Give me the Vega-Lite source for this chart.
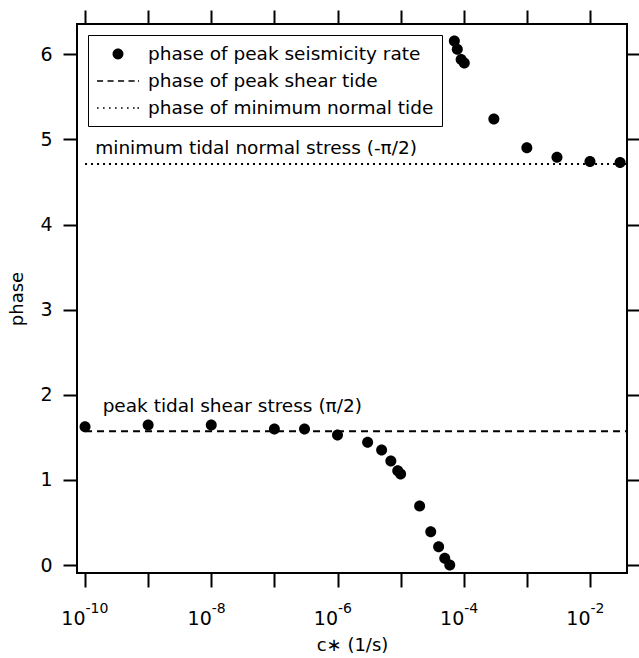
{
  "$schema": "https://vega.github.io/schema/vega-lite/v6.json",
  "width": 550,
  "height": 549,
  "autosize": {"type": "none"},
  "padding": {"left": 77, "top": 24, "right": 12, "bottom": 85},
  "background": "white",
  "config": {
    "font": "DejaVu Sans",
    "view": {"stroke": "black", "strokeWidth": 2},
    "axis": {
      "domain": false,
      "grid": false,
      "tickColor": "black",
      "tickWidth": 2,
      "tickSize": 14,
      "labelColor": "black",
      "titleColor": "black",
      "labelFont": "DejaVu Sans",
      "titleFont": "DejaVu Sans",
      "labelFontSize": 19,
      "titleFontSize": 18,
      "titleFontWeight": "normal"
    }
  },
  "datasets": {
    "points": [
      {"c": 1e-10, "phase": 1.625, "series": "phase of peak seismicity rate"},
      {"c": 1e-9, "phase": 1.645, "series": "phase of peak seismicity rate"},
      {"c": 1e-8, "phase": 1.645, "series": "phase of peak seismicity rate"},
      {"c": 1e-7, "phase": 1.598, "series": "phase of peak seismicity rate"},
      {"c": 3e-7, "phase": 1.598, "series": "phase of peak seismicity rate"},
      {"c": 1e-6, "phase": 1.528, "series": "phase of peak seismicity rate"},
      {"c": 3e-6, "phase": 1.442, "series": "phase of peak seismicity rate"},
      {"c": 5e-6, "phase": 1.351, "series": "phase of peak seismicity rate"},
      {"c": 7e-6, "phase": 1.222, "series": "phase of peak seismicity rate"},
      {"c": 9e-6, "phase": 1.108, "series": "phase of peak seismicity rate"},
      {"c": 1e-5, "phase": 1.069, "series": "phase of peak seismicity rate"},
      {"c": 2e-5, "phase": 0.693, "series": "phase of peak seismicity rate"},
      {"c": 3e-5, "phase": 0.392, "series": "phase of peak seismicity rate"},
      {"c": 4e-5, "phase": 0.215, "series": "phase of peak seismicity rate"},
      {"c": 5e-5, "phase": 0.078, "series": "phase of peak seismicity rate"},
      {"c": 6e-5, "phase": 0.0, "series": "phase of peak seismicity rate"},
      {"c": 7.1e-5, "phase": 6.157, "series": "phase of peak seismicity rate"},
      {"c": 7.9e-5, "phase": 6.06, "series": "phase of peak seismicity rate"},
      {"c": 9.1e-5, "phase": 5.94, "series": "phase of peak seismicity rate"},
      {"c": 1.02e-4, "phase": 5.9, "series": "phase of peak seismicity rate"},
      {"c": 3e-4, "phase": 5.24, "series": "phase of peak seismicity rate"},
      {"c": 1e-3, "phase": 4.904, "series": "phase of peak seismicity rate"},
      {"c": 3e-3, "phase": 4.79, "series": "phase of peak seismicity rate"},
      {"c": 1e-2, "phase": 4.74, "series": "phase of peak seismicity rate"},
      {"c": 3e-2, "phase": 4.73, "series": "phase of peak seismicity rate"}
    ],
    "refs": [
      {"kind": "shear", "phase": 1.5708, "c": 1e-10, "c2": 0.0386},
      {"kind": "normal", "phase": 4.7124, "c": 1e-10, "c2": 0.0386}
    ],
    "notes": [
      {"c": 1.45e-10, "phase": 4.9, "text": "minimum tidal normal stress (-π/2)"},
      {"c": 1.9e-10, "phase": 1.87, "text": "peak tidal shear stress (π/2)"}
    ]
  },
  "resolve": {"axis": {"x": "independent", "y": "independent"}},
  "layer": [
    {
      "data": {"name": "refs"},
      "transform": [{"filter": "datum.kind == 'shear'"}],
      "mark": {"type": "rule", "color": "black", "strokeWidth": 2, "strokeDash": [7, 5]},
      "encoding": {
        "x": {"field": "c", "type": "quantitative", "scale": {"type": "log", "domain": [7.46e-11, 0.0386], "nice": false}, "axis": null},
        "x2": {"field": "c2"},
        "y": {"field": "phase", "type": "quantitative", "scale": {"domain": [-0.094, 6.357], "nice": false, "zero": false}, "axis": null}
      }
    },
    {
      "data": {"name": "refs"},
      "transform": [{"filter": "datum.kind == 'normal'"}],
      "mark": {"type": "rule", "color": "black", "strokeWidth": 2, "strokeDash": [2, 4]},
      "encoding": {
        "x": {
          "field": "c", "type": "quantitative",
          "axis": {
            "orient": "bottom",
            "title": null,
            "ticks": false,
            "values": [1e-10, 1e-8, 1e-6, 1e-4, 1e-2],
            "labelFontSize": 14,
            "labelAlign": "left",
            "labelBaseline": "alphabetic",
            "labelDx": 6,
            "labelPadding": 39,
            "labelFlush": false,
            "labelOverlap": false,
            "labelExpr": "'-' + format(-round(log(datum.value)/LN10), 'd')"
          }
        },
        "x2": {"field": "c2"},
        "y": {"field": "phase", "type": "quantitative", "axis": null}
      }
    },
    {
      "data": {"name": "notes"},
      "mark": {"type": "text", "align": "left", "baseline": "middle", "fontSize": 18.5, "color": "black", "font": "DejaVu Sans"},
      "encoding": {
        "x": {
          "field": "c", "type": "quantitative",
          "axis": {"orient": "top", "labels": false, "title": null, "values": [1e-10, 1e-9, 1e-8, 1e-7, 1e-6, 1e-5, 1e-4, 1e-3, 1e-2]}
        },
        "y": {
          "field": "phase", "type": "quantitative",
          "axis": {"orient": "right", "labels": false, "title": null, "values": [0, 1, 2, 3, 4, 5, 6]}
        },
        "text": {"field": "text"}
      }
    },
    {
      "data": {"name": "points"},
      "mark": {"type": "point", "filled": true, "color": "black", "opacity": 1, "size": 406},
      "encoding": {
        "x": {
          "field": "c", "type": "quantitative",
          "axis": {
            "orient": "bottom",
            "title": "c∗ (1/s)",
            "values": [1e-10, 1e-9, 1e-8, 1e-7, 1e-6, 1e-5, 1e-4, 1e-3, 1e-2],
            "labelFontSize": 19,
            "labelAlign": "right",
            "labelBaseline": "alphabetic",
            "labelDx": 6,
            "labelPadding": 37,
            "titlePadding": 8,
            "labelFlush": false,
            "labelOverlap": false,
            "labelExpr": "round(log(datum.value)/LN10) % 2 == 0 ? '10' : ''"
          }
        },
        "y": {
          "field": "phase", "type": "quantitative",
          "axis": {
            "orient": "left",
            "title": "phase",
            "values": [0, 1, 2, 3, 4, 5, 6],
            "labelPadding": 11,
            "titlePadding": 13
          }
        },
        "shape": {
          "field": "series", "type": "nominal",
          "scale": {
            "domain": ["phase of peak seismicity rate", "phase of peak shear tide", "phase of minimum normal tide"],
            "range": [
              "M0.546,0A0.546,0.546,0,1,1,-0.546,0A0.546,0.546,0,1,1,0.546,0Z",
              "M-2.1,-0.08H-1.49V0.08H-2.1ZM-1.05,-0.08H-0.44V0.08H-1.05ZM0,-0.08H0.61V0.08H0ZM1.05,-0.08H1.66V0.08H1.05ZM2.0,-0.08H2.1V0.08H2.0Z",
              "M-2.1,-0.08H-1.94V0.08H-2.1ZM-1.5,-0.08H-1.34V0.08H-1.5ZM-0.9,-0.08H-0.74V0.08H-0.9ZM-0.3,-0.08H-0.14V0.08H-0.3ZM0.3,-0.08H0.46V0.08H0.3ZM0.9,-0.08H1.06V0.08H0.9ZM1.5,-0.08H1.66V0.08H1.5ZM1.94,-0.08H2.1V0.08H1.94Z"
            ]
          },
          "legend": {
            "title": null,
            "orient": "top-left",
            "offset": 11,
            "padding": 8,
            "strokeColor": "black",
            "fillColor": "white",
            "symbolSize": 400,
            "symbolOffset": 11,
            "rowPadding": 6,
            "labelOffset": 19,
            "labelFontSize": 18.5,
            "labelFont": "DejaVu Sans",
            "labelColor": "black",
            "labelLimit": 400,
            "symbolOpacity": 1,
            "symbolFillColor": "black",
            "encode": {
              "legend": {"update": {"strokeWidth": {"value": 1.5}}},
              "symbols": {"update": {"fill": {"value": "black"}, "opacity": {"value": 1}}}
            }
          }
        }
      }
    }
  ]
}
